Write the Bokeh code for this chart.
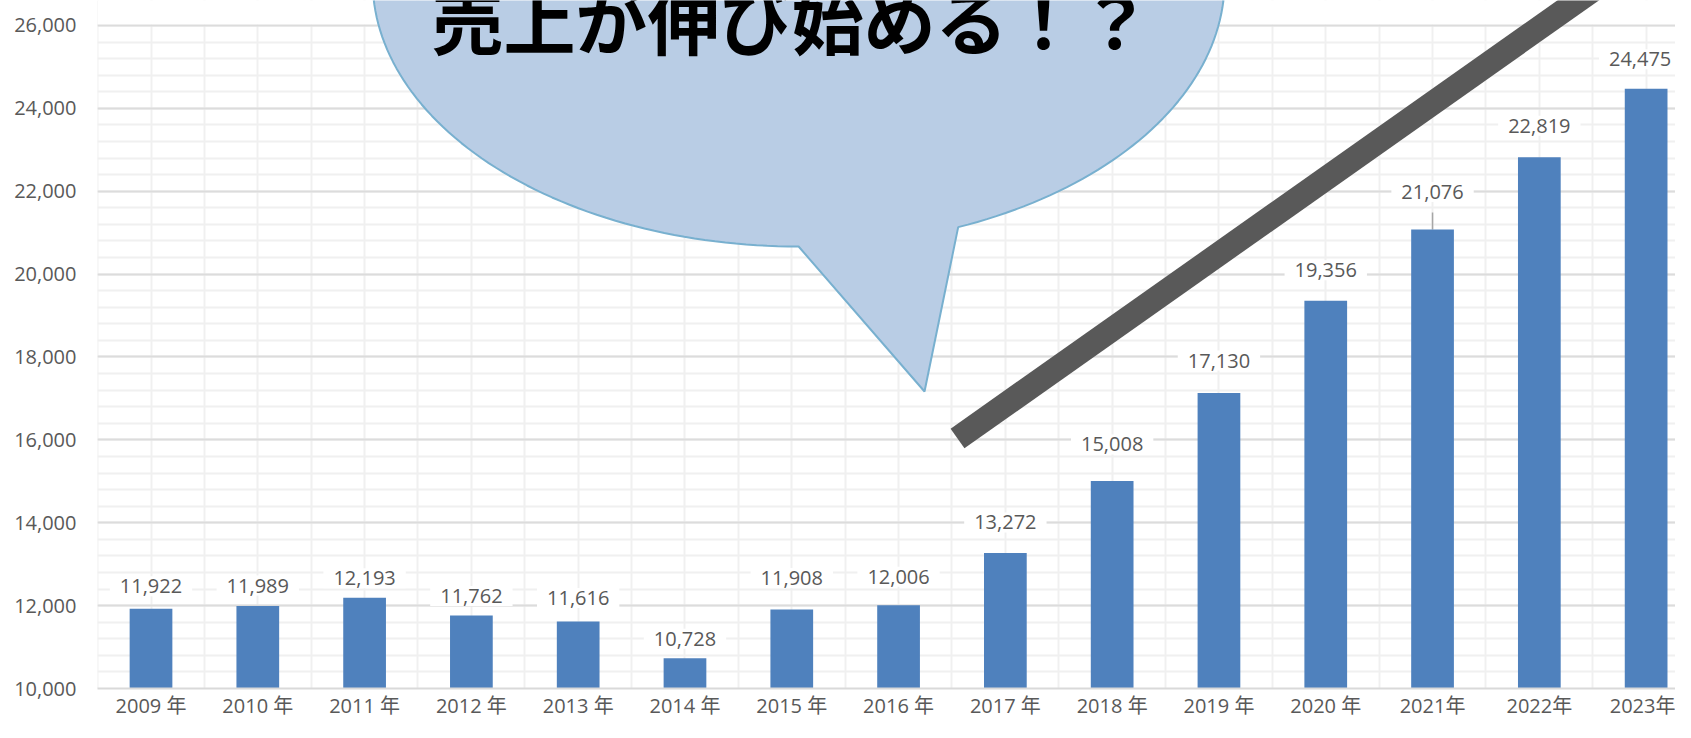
import numpy as np
from bokeh.plotting import figure
from bokeh.models import (Range1d, SingleIntervalTicker, FixedTicker, NumeralTickFormatter,
                          BoxAnnotation, ColumnDataSource)
from bokeh.core.properties import value
from bokeh.embed import file_html
from bokeh.resources import INLINE

# ---------------- data ----------------
years = ["2009 年", "2010 年", "2011 年", "2012 年", "2013 年", "2014 年", "2015 年",
         "2016 年", "2017 年", "2018 年", "2019 年", "2020 年", "2021年", "2022年", "2023年"]
sales = [11922, 11989, 12193, 11762, 11616, 10728, 11908, 12006,
         13272, 15008, 17130, 19356, 21076, 22819, 24475]
y_tick_start = 10000
y_tick_end = 26000
y_tick_step = 2000
callout_text = "売上が伸び始める！？"

# ---------------- style / layout ----------------
label_gap_px = [14, 12, 11, 11, 15, 11, 23, 20, 22, 28, 24, 22, 29, 23, 21]
label_dx_px = [0] * 14 + [-6]
leader_px = [0] * 12 + [17, 0, 0]
BASELINE_FIX = 8.5   # px, compensates the renderer's baseline placement

W, H = 1675, 722
LEFT, BOTTOM = 97, 34
Y0, Y1 = 10000, 26603
X0, X1 = -0.501, 14.275
upp = (Y1 - Y0) / (H - BOTTOM)   # data units per pixel (vertical)

BAR = "#4f81bd"
GRAY_TXT = "#595959"
NUM_FONT = "'Open Sans', 'Noto Sans CJK JP'"

# callout geometry (data units)
BUB_CX, BUB_A = 6.064, 3.989
BUB_CY, BUB_B = 27085, 6419
BUB_T0 = -68.0
TIP_X, TIP_Y = 7.243, 17167
TXT_X, TXT_Y = 5.998, 25500 + 29 * upp
ARROW_X = [7.552, 13.76]
ARROW_Y = [16033, 27326]

p = figure(width=W, height=H, output_backend="svg", toolbar_location=None,
           x_range=Range1d(X0, X1), y_range=Range1d(Y0, Y1),
           min_border_left=LEFT, min_border_bottom=BOTTOM,
           min_border_top=0, min_border_right=0)
p.outline_line_color = None
p.background_fill_color = "white"

# y axis
yt = SingleIntervalTicker(interval=y_tick_step, num_minor_ticks=5)
p.yaxis.ticker = yt
p.yaxis.formatter = NumeralTickFormatter(format="0,0")
p.yaxis.axis_line_color = None
p.yaxis.major_tick_line_color = None
p.yaxis.minor_tick_line_color = None
p.yaxis.major_tick_out = 0
p.yaxis.minor_tick_out = 0
p.yaxis.major_tick_in = 0
p.yaxis.minor_tick_in = 0
p.yaxis.major_label_text_font = NUM_FONT
p.yaxis.major_label_text_font_size = "20px"
p.yaxis.major_label_text_color = GRAY_TXT
p.yaxis.major_label_standoff = 21

# x axis
idx = list(range(len(years)))
p.xaxis.ticker = FixedTicker(ticks=idx)
p.xaxis.major_label_overrides = {i: years[i] for i in idx}
p.xaxis.axis_line_color = "#d9d9d9"
p.xaxis.axis_line_width = 2
p.xaxis.major_tick_line_color = None
p.xaxis.minor_tick_line_color = None
p.xaxis.major_tick_out = 0
p.xaxis.minor_tick_out = 0
p.xaxis.major_tick_in = 0
p.xaxis.minor_tick_in = 0
p.xaxis.major_label_text_font = NUM_FONT
p.xaxis.major_label_text_font_size = "20px"
p.xaxis.major_label_text_color = GRAY_TXT
p.xaxis.major_label_standoff = 3

# grids
p.ygrid.grid_line_color = "#dcdcdc"
p.ygrid.grid_line_width = 2
p.ygrid.minor_grid_line_color = "#f0f0f0"
p.ygrid.minor_grid_line_width = 2
p.ygrid.bounds = (y_tick_start, y_tick_end)
p.xgrid.ticker = SingleIntervalTicker(interval=0.5)
p.xgrid.grid_line_color = "#f0f0f0"
p.xgrid.grid_line_width = 2

# white cover above the top gridline
p.add_layout(BoxAnnotation(bottom=y_tick_end + 1.3 * upp, fill_color="white", fill_alpha=1.0,
                           line_color=None, level="underlay"))

src = ColumnDataSource(dict(
    x=idx, top=sales, year=years,
    label=[f"{v:,}" for v in sales],
    dy=[-(g + BASELINE_FIX) for g in label_gap_px],
    dx=label_dx_px,
))

# data labels (white boxes)
p.text(x="x", y="top", text="label", source=src, y_offset="dy", x_offset="dx",
       text_font=value(NUM_FONT), text_font_size="20px", text_color=GRAY_TXT,
       text_align="center", text_baseline="alphabetic",
       background_fill_color="white", padding=(10, 3))

# leader lines
lead_x = [i for i in idx if leader_px[i] > 0]
lead_y0 = [sales[i] for i in lead_x]
lead_y1 = [sales[i] + leader_px[i] * upp for i in lead_x]
p.segment(x0=lead_x, y0=lead_y0, x1=lead_x, y1=lead_y1, line_color="#a6a6a6", line_width=1.5)

# bars
p.vbar(x="x", top="top", bottom=Y0, width=0.4, source=src, fill_color=BAR, line_color=None)

# callout bubble
t = np.linspace(np.deg2rad(BUB_T0), np.deg2rad(270.0), 240)
bx = list(BUB_CX + BUB_A * np.cos(t)) + [TIP_X]
by = list(BUB_CY + BUB_B * np.sin(t)) + [TIP_Y]
p.patch(bx, by, fill_color="#b9cde5", line_color="#78b0cf", line_width=2)
p.text(x=[TXT_X], y=[TXT_Y], text=[callout_text], text_font=value("Noto Sans CJK JP"),
       text_font_style="bold", text_font_size="72px", text_color="black",
       text_align="center", text_baseline="alphabetic")

# thick trend line
p.line(ARROW_X, ARROW_Y, line_width=24, line_color="#595959", line_cap="butt")

open("out.html", "w").write(file_html(p, INLINE))
